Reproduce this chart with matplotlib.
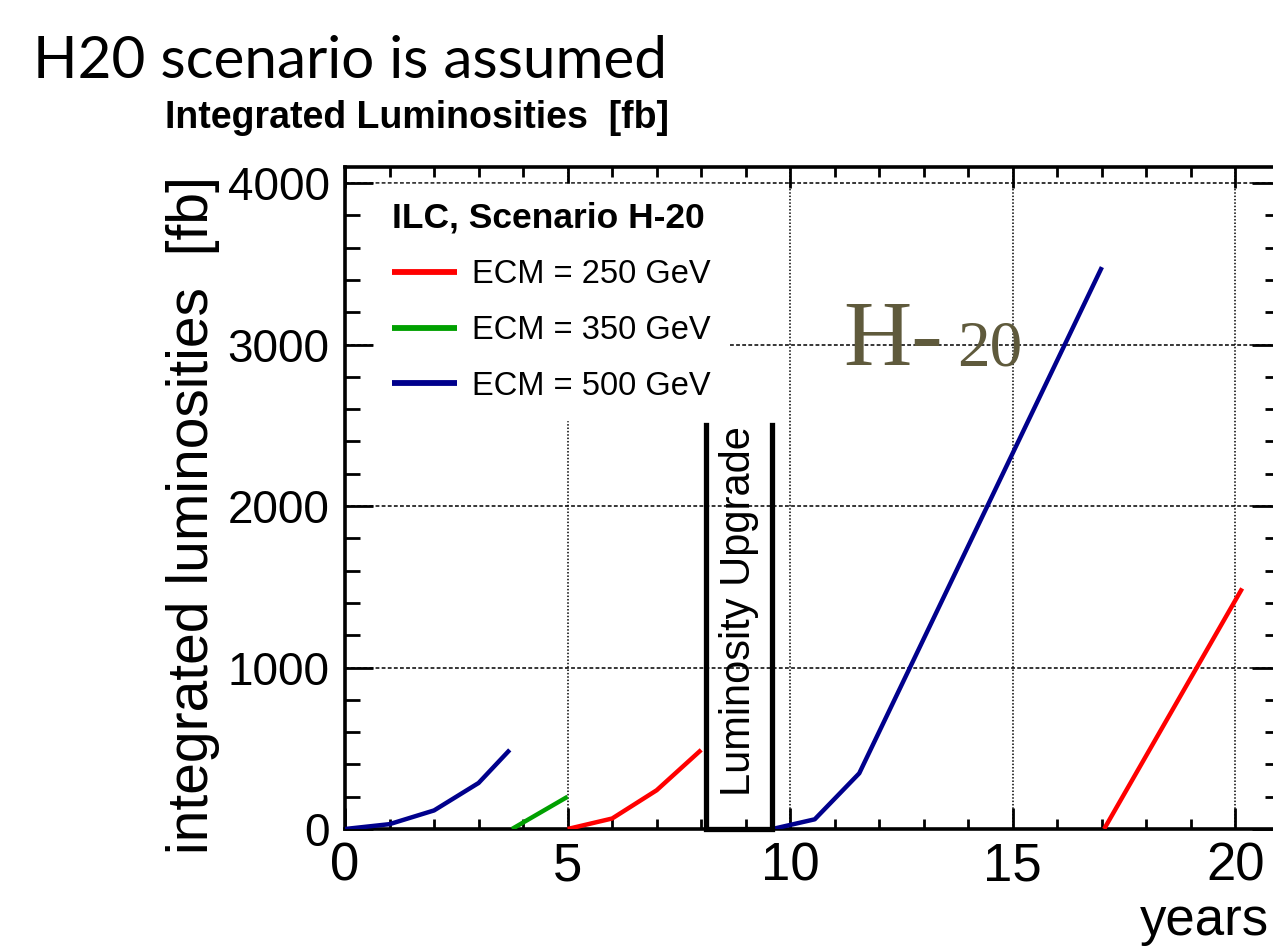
import matplotlib
matplotlib.use("Agg")
import matplotlib.pyplot as plt
from matplotlib.ticker import MultipleLocator

# integrated luminosity per run period, years vs fb
blue_a_x = [0, 1, 2, 3, 3.7]
blue_a_y = [0, 30, 115, 285, 490]
green_x = [3.75, 5.0]
green_y = [0, 200]
red_a_x = [5, 6, 7, 8]
red_a_y = [0, 65, 240, 490]
blue_b_x = [9.6, 10.55, 11.55, 17.0]
blue_b_y = [0, 60, 345, 3480]
red_b_x = [17.05, 20.15]
red_b_y = [0, 1490]

# luminosity upgrade shutdown
upgrade_x = [8.1, 9.6]
upgrade_top = 2500

labels = ["ECM = 250 GeV", "ECM = 350 GeV", "ECM = 500 GeV"]
RED, GREEN, BLUE = "#ff0000", "#00a000", "#00008c"

plt.rcParams["font.family"] = ["Liberation Sans", "DejaVu Sans"]

fig = plt.figure(figsize=(12.73, 9.46), dpi=100)
ax = fig.add_axes([345 / 1273, 117 / 946, 935 / 1273, 662 / 946])

lw = 3.2
l_red, = ax.plot(red_a_x, red_a_y, color=RED, lw=lw, solid_capstyle="butt", label=labels[0], zorder=3)
ax.plot(red_b_x, red_b_y, color=RED, lw=lw, solid_capstyle="butt", zorder=3)
l_green, = ax.plot(green_x, green_y, color=GREEN, lw=lw, solid_capstyle="butt", label=labels[1], zorder=3)
l_blue, = ax.plot(blue_a_x, blue_a_y, color=BLUE, lw=lw, solid_capstyle="butt", label=labels[2], zorder=3)
ax.plot(blue_b_x, blue_b_y, color=BLUE, lw=lw, solid_capstyle="butt", zorder=3)

# upgrade box (open at the top)
ax.plot([upgrade_x[0], upgrade_x[0], upgrade_x[1], upgrade_x[1]],
        [upgrade_top, 0, 0, upgrade_top], color="black", lw=3.8,
        solid_joinstyle="miter", clip_on=False, zorder=4)
ax.text(sum(upgrade_x) / 2, 1350, "Luminosity Upgrade", rotation=90,
        ha="center", va="center", fontsize=30, zorder=4)

# H-20 logo text
ax.text(11.2, 2873, "H-", family="Liberation Serif", fontsize=68,
        color="#5f5a3c", va="baseline", ha="left", zorder=1)
ax.text(13.75, 2873, "20", family="Liberation Serif", fontsize=47,
        color="#5f5a3c", va="baseline", ha="left", zorder=1)

ax.set_xlim(0, 21)
ax.set_ylim(0, 4100)
ax.xaxis.set_major_locator(MultipleLocator(5))
ax.xaxis.set_minor_locator(MultipleLocator(1))
ax.yaxis.set_major_locator(MultipleLocator(1000))
ax.yaxis.set_minor_locator(MultipleLocator(200))

ax.tick_params(which="both", direction="in", top=True, right=True, width=2, colors="black")
ax.tick_params(axis="x", which="major", length=15, labelsize=38, pad=9)
ax.tick_params(axis="x", which="minor", length=7)
ax.tick_params(axis="y", which="major", length=20, labelsize=33, pad=11)
ax.tick_params(axis="y", which="minor", length=11)
for s in ax.spines.values():
    s.set_linewidth(2.6)

ax.grid(True, axis="x", which="major", color="black", lw=1.1, linestyle=(0, (1, 1.2)))
ax.grid(True, axis="y", which="major", color="black", lw=1.1, linestyle=(0, (2.5, 1.5)))
ax.set_axisbelow(True)

ax.set_ylabel("integrated luminosities  [fb]", fontsize=41)
ax.yaxis.set_label_coords(-0.134, 0.474)

leg = ax.legend(handles=[l_red, l_green, l_blue], loc="upper left",
                bbox_to_anchor=(0.031, 0.975), borderaxespad=0, borderpad=0.55,
                title="ILC, Scenario H-20", title_fontproperties={"weight": "bold", "size": 25.5},
                alignment="left", fontsize=23.5, handlelength=2.0, handletextpad=0.45,
                labelspacing=0.76, fancybox=False, framealpha=1, facecolor="white",
                edgecolor="white")
for h in leg.legend_handles:
    h.set_linewidth(4.2)

fig.text(1140 / 1273, 1 - 935 / 946, "years", fontsize=38, va="baseline", ha="left")
fig.text(165 / 1273, 1 - 128 / 946, "Integrated Luminosities  [fb]", fontsize=27,
         weight="bold", va="baseline", ha="left")
fig.text(33 / 1273, 1 - 78 / 946, "H20 scenario is assumed", family=["Lato", "DejaVu Sans"],
         fontsize=42, va="baseline", ha="left")

fig.savefig("out.png", dpi=100)
